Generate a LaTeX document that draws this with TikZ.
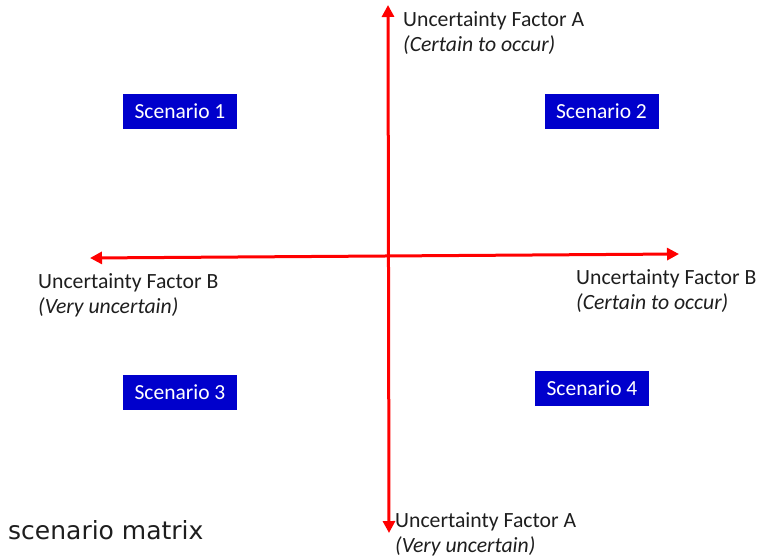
\documentclass[tikz,border=0pt]{standalone}
\usepackage{fontspec}
\setmainfont{Carlito}
\newfontfamily\capfont{DejaVu Sans}
\usepackage{xcolor}
\usepackage{tikz}
\usetikzlibrary{arrows.meta, positioning}
\definecolor{axisred}{RGB}{255,0,0}
\definecolor{boxblue}{RGB}{0,0,204}
\definecolor{inkgray}{RGB}{30,30,30}
\tikzset{
  scen/.style   = {rectangle, fill=boxblue, text=white,
                   minimum width=114pt, minimum height=35pt, inner sep=0pt,
                   font=\fontsize{21.5}{24}\selectfont},
  axislbl/.style= {align=left, anchor=base west, inner sep=0pt, text=inkgray,
                   font=\fontsize{21.7}{24.5}\selectfont},
  axis/.style   = {{Triangle[length=12pt,width=12pt]}-{Triangle[length=12pt,width=12pt]},
                   line width=3pt, draw=axisred},
}

\begin{document}
\begin{tikzpicture}[x=1pt, y=-1pt]
  \useasboundingbox (0,0) rectangle (761,560);

  % axis end points
  \coordinate (atop) at (388,5);
  \coordinate (abot) at (389,533);
  \coordinate (bleft) at (90,258);
  \coordinate (bright) at (679,254);

  % axes
  \draw[axis] (abot) -- (atop);
  \draw[axis] (bleft) -- (bright);

  % scenarios
  \node[scen] (s1) at (180,111.5) {Scenario 1};
  \node[scen] (s2) at (601.5,111.5) {Scenario 2};
  \node[scen] (s3) at (180,392.5) {Scenario 3};
  \node[scen] (s4) at (592,388.5) {Scenario 4};

  % axis labels (anchored on the baseline of the second line)
  \node[axislbl] (ahigh) at (403,51) {Uncertainty Factor A\\\textit{(Certain to occur)}};
  \node[axislbl] (alow)  at (395,552) {Uncertainty Factor A\\\textit{(Very uncertain)}};
  \node[axislbl] (blow)  at (38,313) {Uncertainty Factor B\\\textit{(Very uncertain)}};
  \node[axislbl] (bhigh) at (576,309) {Uncertainty Factor B\\\textit{(Certain to occur)}};

  % caption
  \node[anchor=base west, inner sep=0pt, text=inkgray,
        font=\capfont\fontsize{25}{28}\selectfont] (title) at (8,539) {scenario matrix};
\end{tikzpicture}
\end{document}
